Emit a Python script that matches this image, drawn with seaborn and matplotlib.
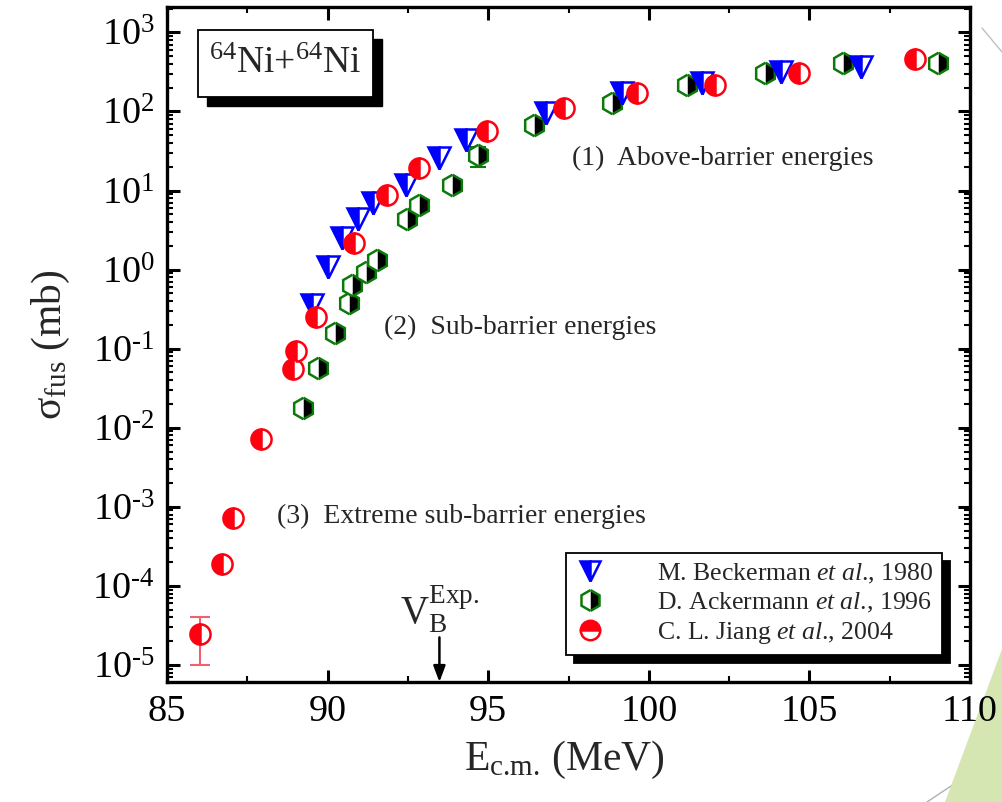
import numpy as np
import matplotlib
matplotlib.use("Agg")
import matplotlib.pyplot as plt
import matplotlib.ticker as mticker
from matplotlib.lines import Line2D
from matplotlib.patches import Rectangle, Polygon
import pandas as pd
import seaborn as sns

# Fusion cross sections for 64Ni+64Ni (E_cm in MeV, sigma in mb)
beck_e = [89.5, 90.0, 90.45, 90.93, 91.4, 92.45, 93.48, 94.32, 96.8, 99.16, 101.65, 104.13, 106.61]
beck_s = [0.36, 1.08, 2.5, 4.4, 6.9, 11.6, 25.5, 43, 95, 169, 226, 312, 361]

ack_e = [89.22, 89.69, 90.22, 90.68, 90.75, 91.21, 91.55, 92.48, 92.86, 93.88, 94.69,
         96.43, 98.85, 101.18, 103.63, 106.06, 109.0]
ack_s = [0.0177, 0.0565, 0.157, 0.375, 0.63, 0.92, 1.32, 4.4, 6.5, 11.6, 27.9,
         67, 127, 214, 302, 405, 405]

jiang_e = [86.03, 86.7, 87.05, 87.92, 88.91, 89.0, 89.65, 90.81, 91.86, 92.86, 94.97,
           97.36, 99.63, 102.05, 104.66, 108.3]
jiang_s = [2.5e-5, 1.88e-4, 7.2e-4, 7.2e-3, 0.056, 0.093, 0.25, 2.2, 8.7, 19, 56,
           109, 169, 214, 302, 455]

# error bars (lower / upper limits)
jiang_err_e, jiang_err_lo, jiang_err_hi = 86.03, 1.0e-5, 4.0e-5
ack_err_e, ack_err_lo, ack_err_hi = 94.69, 19.6, 36.0

vb_exp = 93.48

labels = ["M. Beckerman $\\it{et\\ al}$., 1980",
          "D. Ackermann $\\it{et\\ al}$., 1996",
          "C. L. Jiang $\\it{et\\ al}$., 2004"]

sns.set_theme(style="ticks")
plt.rcParams["font.family"] = ["Liberation Serif", "DejaVu Serif"]
plt.rcParams["mathtext.fontset"] = "custom"
plt.rcParams["mathtext.rm"] = "Liberation Serif"
plt.rcParams["mathtext.it"] = "Liberation Serif:italic"
plt.rcParams["mathtext.bf"] = "Liberation Serif:bold"
plt.rcParams["axes.unicode_minus"] = False

BLUE = "#0000ff"
GREEN = "#0b7a0b"
RED = "#ff0010"

fig = plt.figure(figsize=(10.02, 8.02), dpi=100)
ax = fig.add_axes([0.1667, 0.1496, 0.8014, 0.8416])

beck = pd.DataFrame({"E": beck_e, "sigma": beck_s})
ack = pd.DataFrame({"E": ack_e, "sigma": ack_s})
jiang = pd.DataFrame({"E": jiang_e, "sigma": jiang_s})

ax.errorbar([jiang_err_e], [jiang_s[0]],
            yerr=[[jiang_s[0] - jiang_err_lo], [jiang_err_hi - jiang_s[0]]],
            fmt="none", ecolor="#f06070", elinewidth=1.5, capsize=7, capthick=1.5, zorder=2)
ax.errorbar([ack_err_e], [ack_s[10]],
            yerr=[[ack_s[10] - ack_err_lo], [ack_err_hi - ack_s[10]]],
            fmt="none", ecolor=GREEN, elinewidth=1.5, capsize=6, capthick=1.5, zorder=2)

common = dict(estimator=None, sort=False, linestyle="", ax=ax, legend=False)
sns.lineplot(data=ack, x="E", y="sigma", marker="h", markersize=15.5, fillstyle="right",
             markerfacecolor="black", markerfacecoloralt="white", markeredgecolor=GREEN,
             markeredgewidth=1.8, color=GREEN, zorder=3, **common)
sns.lineplot(data=beck, x="E", y="sigma", marker="v", markersize=15.5, fillstyle="left",
             markerfacecolor=BLUE, markerfacecoloralt="white", markeredgecolor=BLUE,
             markeredgewidth=1.8, color=BLUE, zorder=4, **common)
sns.lineplot(data=jiang, x="E", y="sigma", marker="o", markersize=14.5, fillstyle="left",
             markerfacecolor=RED, markerfacecoloralt="white", markeredgecolor=RED,
             markeredgewidth=1.8, color=RED, zorder=5, **common)

ax.set_yscale("log")
ax.set_xlim(85, 110)
ax.set_ylim(10 ** -5.215, 10 ** 3.32)
ax.xaxis.set_major_locator(mticker.MultipleLocator(5))
ax.xaxis.set_minor_locator(mticker.MultipleLocator(2.5))
ax.yaxis.set_major_locator(mticker.LogLocator(base=10, numticks=20))
ax.yaxis.set_minor_locator(mticker.LogLocator(base=10, subs=range(2, 10), numticks=20))
ax.yaxis.set_minor_formatter(mticker.NullFormatter())
# decade labels with a plain hyphen in the exponent
ax.yaxis.set_major_formatter(mticker.FuncFormatter(
    lambda v, pos: "10$^{\\text{%d}}$" % int(round(np.log10(v)))))

ax.tick_params(which="both", direction="in", top=True, right=True, colors="black")
ax.tick_params(which="major", length=9, width=2.2, labelsize=27.5, pad=9)
ax.tick_params(which="minor", length=4.5, width=1.5)
for sp in ax.spines.values():
    sp.set_linewidth(2.4)
    sp.set_color("black")

ax.set_xlabel("E$_{\\text{c.m.}}$ (MeV)", fontsize=30)
ax.set_ylabel("σ$_{\\rm fus}$ (mb)", fontsize=30)
ax.xaxis.set_label_coords(0.495, -0.085)
ax.yaxis.set_label_coords(-0.118, 0.5)

# region labels
tfs = 20
ax.text(0.504, 0.776, "(1)  Above-barrier energies", transform=ax.transAxes,
        fontsize=tfs, ha="left", va="center")
ax.text(0.27, 0.526, "(2)  Sub-barrier energies", transform=ax.transAxes,
        fontsize=tfs, ha="left", va="center")
ax.text(0.137, 0.246, "(3)  Extreme sub-barrier energies", transform=ax.transAxes,
        fontsize=tfs, ha="left", va="center")

# reaction label box with offset shadow
bx0, by0, bw, bh = 0.0386, 0.867, 0.218, 0.099
sx, sy = 0.011, -0.014
ax.add_patch(Rectangle((bx0 + sx, by0 + sy), bw, bh, transform=ax.transAxes,
                       facecolor="black", edgecolor="black", clip_on=False, zorder=6))
ax.add_patch(Rectangle((bx0, by0), bw, bh, transform=ax.transAxes,
                       facecolor="white", edgecolor="black", linewidth=1.3,
                       clip_on=False, zorder=7))
ax.text(bx0 + bw / 2, by0 + bh / 2, "$^{64}$Ni+$^{64}$Ni", transform=ax.transAxes,
        fontsize=27, ha="center", va="center", zorder=8)

# experimental barrier marker
ax.annotate("", xy=(vb_exp, 10 ** -5.215), xytext=(vb_exp, 10 ** -4.65),
            arrowprops=dict(arrowstyle="-|>,head_length=0.8,head_width=0.3",
                            color="black", lw=1.8, shrinkA=0, shrinkB=0))
ax.text(vb_exp, 10 ** -4.3, "V$_{\\rm B}^{\\text{Exp.}}$", fontsize=28,
        ha="center", va="center")

# legend
handles = [
    Line2D([], [], linestyle="", marker="v", markersize=15, fillstyle="left",
           markerfacecolor=BLUE, markerfacecoloralt="white", markeredgecolor=BLUE,
           markeredgewidth=1.8),
    Line2D([], [], linestyle="", marker="h", markersize=15, fillstyle="right",
           markerfacecolor="black", markerfacecoloralt="white", markeredgecolor=GREEN,
           markeredgewidth=1.8),
    Line2D([], [], linestyle="", marker="o", markersize=14, fillstyle="top",
           markerfacecolor=RED, markerfacecoloralt="white", markeredgecolor=RED,
           markeredgewidth=1.8),
]
leg = ax.legend(handles, labels, loc="lower right", bbox_to_anchor=(0.965, 0.04),
                borderaxespad=0, fontsize=18.5, frameon=True, fancybox=False,
                shadow={"ox": 6, "oy": -6, "color": "black", "alpha": 1},
                handlelength=1.2, handletextpad=2.0, labelspacing=0.2,
                borderpad=0.35, edgecolor="black", framealpha=1)
leg.get_frame().set_linewidth(1.3)
leg.set_zorder(9)

# slide decoration in the lower right corner, kept behind the axis text
fig.patches.append(Polygon([(945 / 1002, 0), (1.0, 0), (1.0, (802 - 649) / 802)],
                           closed=True, transform=fig.transFigure,
                           facecolor="#d5e6b2", edgecolor="none", zorder=-1))
fig.lines.append(Line2D([927 / 1002, 1.0], [0, (802 - 752) / 802],
                        transform=fig.transFigure, color="#b0b0b0", lw=1, zorder=-1))
fig.lines.append(Line2D([982 / 1002, 1.0], [(802 - 28) / 802, (802 - 52) / 802],
                        transform=fig.transFigure, color="#c0c0c0", lw=1, zorder=-1))

fig.savefig("out.png", dpi=100)
